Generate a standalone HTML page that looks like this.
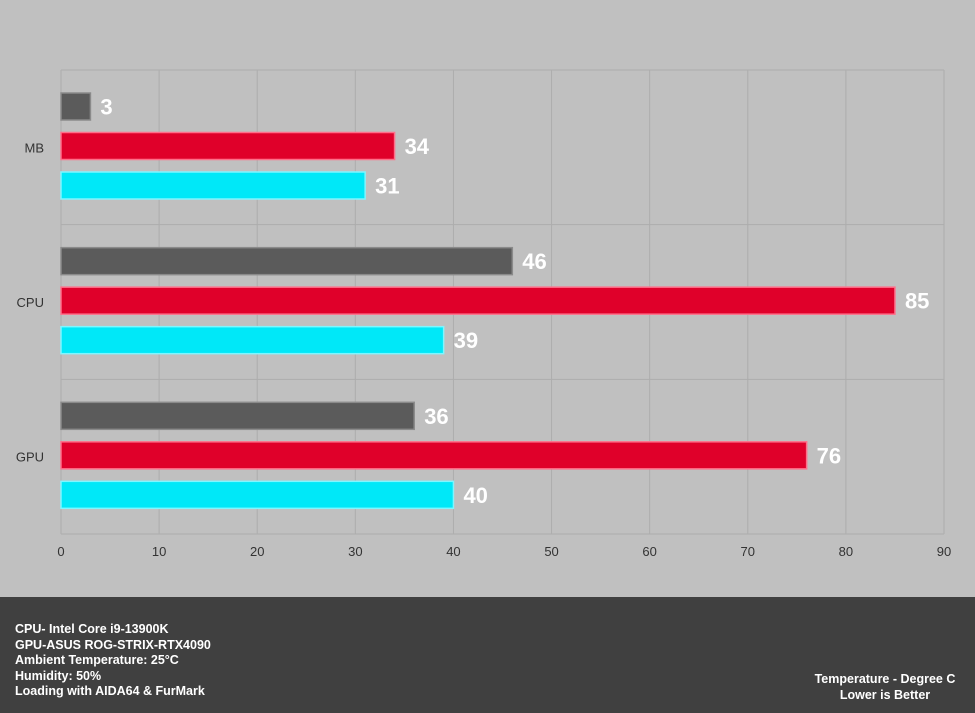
<!DOCTYPE html>
<html><head><meta charset="utf-8"><style>
html,body{margin:0;padding:0;background:#c0c0c0;}
svg{display:block;font-family:"Liberation Sans",sans-serif;}
</style></head><body>
<svg id="chart" width="975" height="713" viewBox="0 0 975 713">
<defs>
<filter id="glowR" x="-5%" y="-40%" width="110%" height="180%"><feGaussianBlur in="SourceAlpha" stdDeviation="2"/><feFlood flood-color="#ff6f8a"/><feComposite operator="in" in2="SourceAlpha"/></filter>
</defs>
<rect x="0" y="0" width="975" height="597" fill="#c0c0c0"/>
<g id="grid"></g>
<g id="bars"></g>
<g id="xticks"></g>
<rect x="0" y="597" width="975" height="116" fill="#404040"/>
<g font-weight="bold" font-size="12.5" fill="#fff">
<text x="15" y="633">CPU- Intel Core i9-13900K</text>
<text x="15" y="649">GPU-ASUS ROG-STRIX-RTX4090</text>
<text x="15" y="664">Ambient Temperature: 25°C</text>
<text x="15" y="680">Humidity: 50%</text>
<text x="15" y="695">Loading with AIDA64  &amp; FurMark</text>
</g>
<g font-weight="bold" font-size="12.5" fill="#fff" text-anchor="middle">
<text x="885" y="683">Temperature - Degree C</text>
<text x="885" y="699">Lower is Better</text>
</g>
</svg>
<script>
const categories = ["MB","CPU","GPU"];
const seriesGray = [3,46,36];
const seriesRed = [34,85,76];
const seriesCyan = [31,39,40];
const xTicks = [0,10,20,30,40,50,60,70,80,90];

const NS="http://www.w3.org/2000/svg";
const X0=61,X1=944,Y0=70,Y1=534,XMAX=90;
const x=v=>X0+(X1-X0)*v/XMAX;
const band=(Y1-Y0)/categories.length;
function mk(tag,attrs,parent){const e=document.createElementNS(NS,tag);for(const k in attrs)e.setAttribute(k,attrs[k]);parent.appendChild(e);return e;}
const grid=document.getElementById('grid'),bars=document.getElementById('bars'),xt=document.getElementById('xticks');
xTicks.forEach(t=>{
  const l=mk('line',{x1:x(t),x2:x(t),y1:Y0,y2:Y1,stroke:'#adadad','stroke-width':1},grid);
  
  
  const tx=mk('text',{x:x(t),y:556,'text-anchor':'middle','font-size':13,fill:'#333'},xt);
  tx.textContent=t;
  
  
});
for(let i=0;i<=categories.length;i++){
  const l=mk('line',{x1:X0,x2:X1,y1:Y0+band*i,y2:Y0+band*i,stroke:'#adadad','stroke-width':1},grid);
  
  
}
const series=[{v:seriesGray,c:'#5b5b5b',g:'#8a8a8a',n:'gray'},{v:seriesRed,c:'#e0002a',g:'#ff6f8a',n:'red'},{v:seriesCyan,c:'#00e8f8',g:'#7ff6ff',n:'cyan'}];
categories.forEach((cat,i)=>{
  const top=Y0+band*i;
  const lb=mk('text',{x:44,y:top+band/2+5,'text-anchor':'end','font-size':13,fill:'#333'},bars);
  lb.textContent=cat;
  
  
  series.forEach((s,j)=>{
    const y=top+23+j*39.5,h=27,w=x(s.v[i])-X0;
    const r=mk('rect',{x:X0,y:y,width:w,height:h,fill:s.c,stroke:s.g,'stroke-width':1.5},bars);
    
    
    const t=mk('text',{x:x(s.v[i])+10,y:y+h/2+8,'font-size':22,'font-weight':'bold',fill:'#fff'},bars);
    t.textContent=s.v[i];
    
    
  });
});
</script>
</body></html>
